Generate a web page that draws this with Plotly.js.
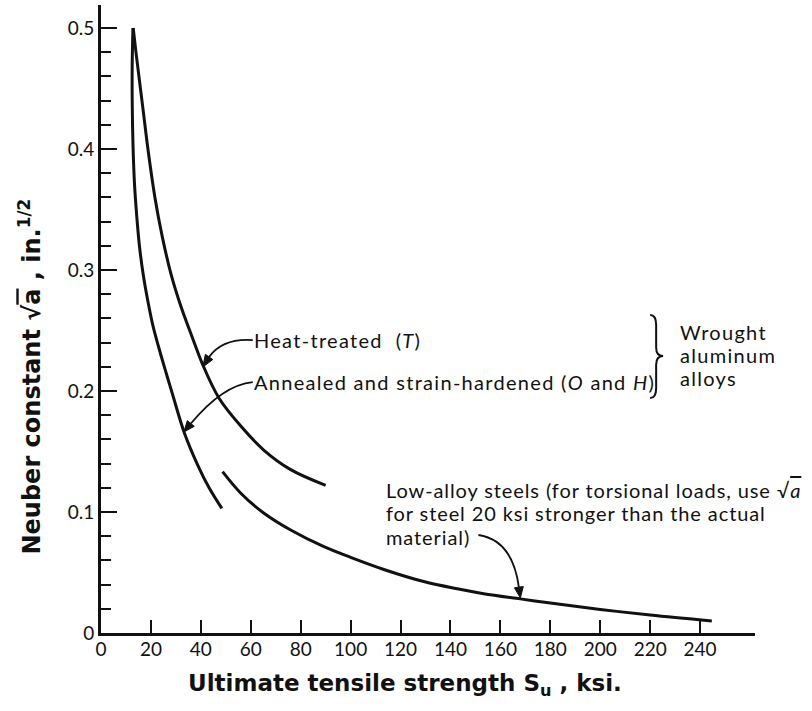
<!DOCTYPE html>
<html>
<head>
<meta charset="utf-8">
<script src="https://cdn.plot.ly/plotly-3.0.1.min.js"></script>
<style>
  html, body { margin: 0; padding: 0; background: #ffffff; }
  #chart { width: 812px; height: 711px; }
</style>
</head>
<body>
<div id="chart"></div>
<script>
// Ultimate tensile strength S_u (ksi) and Neuber constant sqrt(a) (in.^1/2)

// Wrought aluminum alloys, heat-treated (T)
const heatTreatedSu = [12.9, 14.0, 15.5, 17.0, 18.8, 21.6, 24.5, 28.0, 32.0, 36.8, 40.7, 47.3, 56.0, 65.3, 76.0, 90.0];
const heatTreatedA  = [0.500, 0.480, 0.455, 0.430, 0.400, 0.360, 0.328, 0.297, 0.270, 0.243, 0.222, 0.194, 0.171, 0.151, 0.135, 0.122];

// Wrought aluminum alloys, annealed and strain-hardened (O and H)
const annealedSu = [12.8, 12.5, 12.5, 12.8, 13.4, 14.3, 15.5, 17.0, 18.8, 20.8, 23.0, 25.8, 28.7, 33.3, 38.7, 43.3, 48.4];
const annealedA  = [0.500, 0.470, 0.440, 0.405, 0.372, 0.345, 0.318, 0.295, 0.274, 0.254, 0.237, 0.217, 0.197, 0.166, 0.139, 0.120, 0.103];

// Low-alloy steels
const steelSu = [48.7, 56.0, 65.3, 76.0, 89.3, 100.0, 113.3, 129.3, 142.7, 153.3, 168.0, 180.0, 200.0, 220.0, 244.7];
const steelA  = [0.1333, 0.1155, 0.099, 0.0851, 0.0713, 0.0625, 0.0525, 0.0425, 0.0365, 0.0325, 0.0282, 0.0248, 0.0195, 0.0148, 0.0099];

// Axis ticks
const suTicks = [0, 20, 40, 60, 80, 100, 120, 140, 160, 180, 200, 220, 240];
const suTickText = ['0', '20', '40', '60', '80', '100', '120', '140', '160', '180', '200', '220', '240'];
const aTicks = [0, 0.1, 0.2, 0.3, 0.4, 0.5];
const aTickText = ['0', '0.1', '0.2', '0.3', '0.4', '0.5'];

const INK = '#111111';
const LABEL_FONT = 'Lato, "Open Sans", sans-serif';
const TITLE_FONT = '"DejaVu Sans", "Liberation Sans", sans-serif';
const tracked = (s, px) => '<span style="letter-spacing:' + (px || 1.3) + 'px">' + s + '</span>';

function curve(x, y, name) {
  return {
    x: x, y: y, name: name, type: 'scatter', mode: 'lines',
    line: { color: INK, width: 3, shape: 'spline', smoothing: 1 },
    hoverinfo: 'x+y+name', showlegend: false
  };
}

const traces = [
  curve(heatTreatedSu, heatTreatedA, 'Heat-treated (T)'),
  curve(annealedSu, annealedA, 'Annealed and strain-hardened (O and H)'),
  curve(steelSu, steelA, 'Low-alloy steels')
];

function note(x, y, text) {
  return {
    x: x, y: y, xref: 'x', yref: 'y', text: text, showarrow: false,
    xanchor: 'left', yanchor: 'middle', borderpad: 0, borderwidth: 0,
    font: { family: LABEL_FONT, size: 20, color: INK }
  };
}

const annotations = [
  note(61.2, 0.2421, tracked('Heat-treated \u00a0(<i>T</i>)')),
  note(61.2, 0.2074, tracked('Annealed and strain-hardened (<i>O</i> and <i>H</i>)')),
  note(232, 0.2488, tracked('Wrought')),
  note(232, 0.2298, tracked('aluminum')),
  note(232, 0.2107, tracked('alloys')),
  note(114, 0.1182, tracked('Low-alloy steels (for torsional loads, use \u221a<span style="text-decoration:overline"><i>a</i></span>', 0.9)),
  note(114, 0.0992, tracked('for steel 20 ksi stronger than the actual', 0.9)),
  note(114, 0.0793, tracked('material)', 0.9)),
  {
    xref: 'paper', yref: 'paper', x: 0.465, y: -0.083, xanchor: 'center', yanchor: 'middle',
    showarrow: false,
    text: '<b>Ultimate tensile strength S<sub>u</sub> , ksi.</b>',
    font: { family: TITLE_FONT, size: 23, color: INK }
  },
  {
    xref: 'paper', yref: 'paper', x: -0.108, y: 0.409, xanchor: 'center', yanchor: 'middle',
    showarrow: false, textangle: -90,
    text: '<b>Neuber constant \u221a<span style="text-decoration:overline">a</span> , in.<sup>1/2</sup></b>',
    font: { family: TITLE_FONT, size: 24, color: INK }
  }
];

const lineStyle = { color: INK, width: 1.8 };
const headStyle = { color: INK, width: 1 };
const shapes = [
  // leaders from the labels to the curves
  { type: 'path', xref: 'x', yref: 'y', path: 'M 60.8,0.2421 Q 48.8,0.2438 43.3,0.2282', line: lineStyle },
  { type: 'path', xref: 'x', yref: 'y', path: 'M 60.8,0.2074 Q 48.8,0.2050 36.0,0.1731', line: lineStyle },
  { type: 'path', xref: 'x', yref: 'y', path: 'M 151.2,0.0810 Q 164.8,0.0769 167.4,0.0380', line: lineStyle },
  // arrowheads
  { type: 'path', xref: 'x', yref: 'y', path: 'M 40.8,0.2198 L 44.78,0.2260 L 41.82,0.2303 Z', fillcolor: INK, line: headStyle },
  { type: 'path', xref: 'x', yref: 'y', path: 'M 33.2,0.1661 L 37.37,0.1708 L 34.58,0.1755 Z', fillcolor: INK, line: headStyle },
  { type: 'path', xref: 'x', yref: 'y', path: 'M 168,0.0289 L 169.18,0.0384 L 165.62,0.0374 Z', fillcolor: INK, line: headStyle },
  // brace grouping the aluminum alloys
  { type: 'path', xref: 'x', yref: 'y',
    path: 'M 220,0.2628 Q 222.4,0.2628 222.4,0.2545 L 222.4,0.2360 Q 222.4,0.2289 225.2,0.2289 Q 222.4,0.2289 222.4,0.2218 L 222.4,0.2025 Q 222.4,0.1942 220,0.1942',
    line: { color: INK, width: 2 } }
];

const layout = {
  width: 812, height: 711,
  margin: { l: 101, r: 57, t: 5, b: 78, pad: 0 },
  paper_bgcolor: '#ffffff', plot_bgcolor: '#ffffff',
  showlegend: false,
  xaxis: {
    range: [0, 262], showgrid: false, zeroline: false,
    showline: true, linecolor: INK, linewidth: 3,
    ticks: 'inside', ticklen: 13, tickwidth: 2, tickcolor: INK,
    tickmode: 'array', tickvals: suTicks, ticktext: suTickText,
    tickfont: { family: LABEL_FONT, size: 19, color: INK },
    ticklabelstandoff: -3
  },
  yaxis: {
    range: [0, 0.519], showgrid: false, zeroline: false,
    showline: true, linecolor: INK, linewidth: 3,
    ticks: 'inside', ticklen: 16, tickwidth: 2, tickcolor: INK,
    tickmode: 'array', tickvals: aTicks, ticktext: aTickText,
    tickfont: { family: LABEL_FONT, size: 19, color: INK },
    ticklabelstandoff: 0,
    minor: { tick0: 0, dtick: 0.02, ticks: 'inside', ticklen: 10, tickwidth: 2, tickcolor: INK }
  },
  annotations: annotations,
  shapes: shapes
};

Plotly.newPlot('chart', traces, layout, { displayModeBar: false, staticPlot: true });
</script>
</body>
</html>
